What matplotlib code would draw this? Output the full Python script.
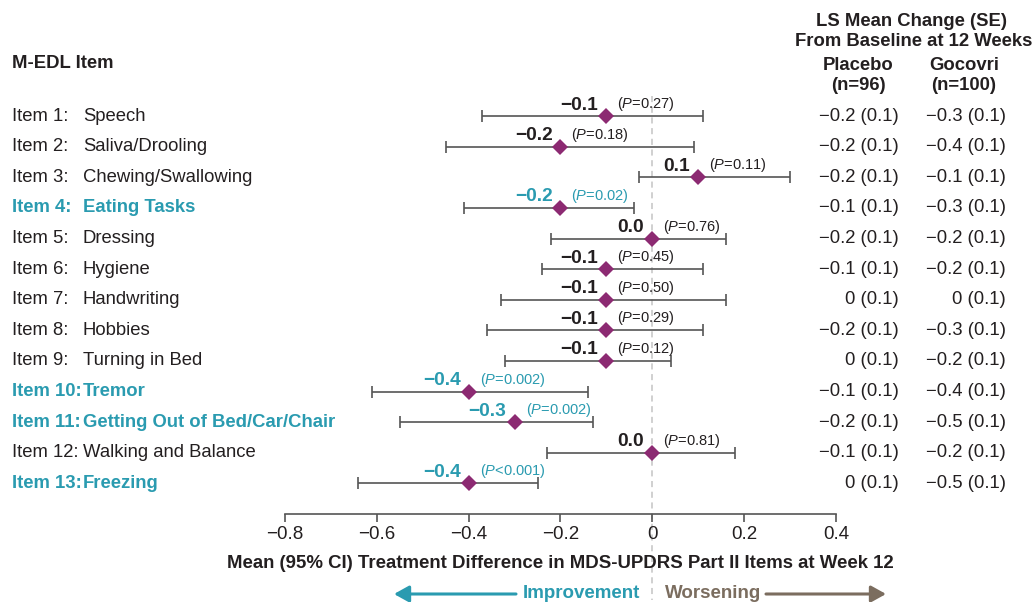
import matplotlib
matplotlib.use("Agg")
import matplotlib.pyplot as plt
from matplotlib.transforms import blended_transform_factory

plt.rcParams['font.family'] = ['Liberation Sans', 'DejaVu Sans']
plt.rcParams['mathtext.fontset'] = 'custom'
plt.rcParams['mathtext.it'] = 'Liberation Sans:italic'
plt.rcParams['mathtext.rm'] = 'Liberation Sans'

# ---- data ----
item_nums = ["Item 1:", "Item 2:", "Item 3:", "Item 4:", "Item 5:", "Item 6:", "Item 7:",
             "Item 8:", "Item 9:", "Item 10:", "Item 11:", "Item 12:", "Item 13:"]
item_names = ["Speech", "Saliva/Drooling", "Chewing/Swallowing", "Eating Tasks", "Dressing",
              "Hygiene", "Handwriting", "Hobbies", "Turning in Bed", "Tremor",
              "Getting Out of Bed/Car/Chair", "Walking and Balance", "Freezing"]
significant = [False, False, False, True, False, False, False, False, False, True, True, False, True]
estimate = [-0.1, -0.2, 0.1, -0.2, 0.0, -0.1, -0.1, -0.1, -0.1, -0.4, -0.3, 0.0, -0.4]
ci_low = [-0.37, -0.45, -0.03, -0.41, -0.22, -0.24, -0.33, -0.36, -0.32, -0.61, -0.55, -0.23, -0.64]
ci_high = [0.11, 0.09, 0.30, -0.04, 0.16, 0.11, 0.16, 0.11, 0.04, -0.14, -0.13, 0.18, -0.25]
p_text = ["=0.27", "=0.18", "=0.11", "=0.02", "=0.76", "=0.45", "=0.50", "=0.29", "=0.12",
          "=0.002", "=0.002", "=0.81", "<0.001"]
placebo_mean = [-0.2, -0.2, -0.2, -0.1, -0.2, -0.1, 0, -0.2, 0, -0.1, -0.2, -0.1, 0]
gocovri_mean = [-0.3, -0.4, -0.1, -0.3, -0.2, -0.2, 0, -0.3, -0.2, -0.4, -0.5, -0.2, -0.5]
se = [0.1] * 13
xticks = [-0.8, -0.6, -0.4, -0.2, 0, 0.2, 0.4]
xtick_labels = ["\u22120.8", "\u22120.6", "\u22120.4", "\u22120.2", "0", "0.2", "0.4"]

TEAL = "#2a9bb0"
PURPLE = "#8c2a72"
BROWN = "#7b6d5f"
DARK = "#231f20"
BAR = "#555555"

W, H = 1033, 602
FS = 13.3


def fy(py):
    return 1 - py / H


def fx(px):
    return px / W


def fmt(v):
    if v == 0:
        return "0"
    return f"{v:.1f}".replace("-", "\u2212")


fig = plt.figure(figsize=(W / 100, H / 100), dpi=100)
top_px, bot_px = 85.5, 514
ax = fig.add_axes([fx(285), fy(bot_px), fx(836) - fx(285), (bot_px - top_px) / H])

rows = list(range(1, len(estimate) + 1))
ax.set_xlim(-0.8, 0.4)
ax.set_ylim(14, 0)

# reference line at 0
ax.plot([0, 0], [0.35, 16.8], color="#c4c4c4", lw=1.1, ls=(0, (4, 3)), clip_on=False, zorder=0)

xerr = [[e - l for e, l in zip(estimate, ci_low)], [h - e for e, h in zip(estimate, ci_high)]]
ax.errorbar(estimate, rows, xerr=xerr, fmt="none", ecolor=BAR, elinewidth=1.2,
            capsize=4.5, capthick=1.2, zorder=2)
ax.plot(estimate, rows, "D", color=PURPLE, markersize=7.8, markeredgewidth=0, zorder=3)

for r, e, p, sig in zip(rows, estimate, p_text, significant):
    c = TEAL if sig else DARK
    ax.annotate(f"{e:.1f}".replace("-", "\u2212"), xy=(e, r), xytext=(-8, 11),
                textcoords="offset pixels", ha="right", va="center",
                fontsize=13.8, fontweight="bold", color=c)
    ax.annotate("(" + r"$\mathit{P}$" + p + ")", xy=(e, r), xytext=(11, 12),
                textcoords="offset pixels", ha="left", va="center",
                fontsize=10.5, color=c)

for s in ["left", "right", "top"]:
    ax.spines[s].set_visible(False)
ax.spines["bottom"].set_color(BAR)
ax.spines["bottom"].set_linewidth(1.2)
ax.set_yticks([])
ax.set_xticks(xticks)
ax.set_xticklabels(xtick_labels, fontsize=13.5, color=DARK)
ax.tick_params(axis="x", length=5.8, width=1.2, color=BAR, pad=3)

# left labels and right-hand table, aligned with rows
tr = blended_transform_factory(fig.transFigure, ax.transData)
for r, n, name, sig, pm, gm, s in zip(rows, item_nums, item_names, significant,
                                       placebo_mean, gocovri_mean, se):
    c = TEAL if sig else DARK
    w = "bold" if sig else "normal"
    ax.text(fx(12), r, n, transform=tr, ha="left", va="center", fontsize=FS, color=c, fontweight=w)
    ax.text(fx(83), r, name, transform=tr, ha="left", va="center", fontsize=FS, color=c, fontweight=w)
    ax.text(fx(899), r, f"{fmt(pm)} ({s})", transform=tr, ha="right", va="center",
            fontsize=FS, color=DARK)
    ax.text(fx(1006), r, f"{fmt(gm)} ({s})", transform=tr, ha="right", va="center",
            fontsize=FS, color=DARK)

# headers
fig.text(fx(12), fy(64), "M-EDL Item", ha="left", va="center", fontsize=FS, fontweight="bold", color=DARK)
fig.text(fx(912), fy(22), "LS Mean Change (SE)", ha="center", va="center", fontsize=FS,
         fontweight="bold", color=DARK)
fig.text(fx(914), fy(42), "From Baseline at 12 Weeks", ha="center", va="center", fontsize=FS,
         fontweight="bold", color=DARK)
fig.text(fx(858), fy(65), "Placebo", ha="center", va="center", fontsize=FS, fontweight="bold", color=DARK)
fig.text(fx(858), fy(85), "(n=96)", ha="center", va="center", fontsize=FS, fontweight="bold", color=DARK)
fig.text(fx(964), fy(65), "Gocovri", ha="center", va="center", fontsize=FS, fontweight="bold", color=DARK)
fig.text(fx(964), fy(85), "(n=100)", ha="center", va="center", fontsize=FS, fontweight="bold", color=DARK)

# x axis title
fig.text(fx(560.5), fy(563), "Mean (95% CI) Treatment Difference in MDS-UPDRS Part II Items at Week 12",
         ha="center", va="center", fontsize=13.4, fontweight="bold", color=DARK)

# direction arrows
fig.text(fx(640), fy(594), "Improvement", ha="right", va="center", fontsize=13.5,
         fontweight="bold", color=TEAL)
fig.text(fx(665), fy(594), "Worsening", ha="left", va="center", fontsize=13.5,
         fontweight="bold", color=BROWN)
fig.add_artist(matplotlib.patches.FancyArrowPatch(
    (fx(516), fy(594)), (fx(394), fy(594)), transform=fig.transFigure,
    arrowstyle="-|>,head_length=9,head_width=5", mutation_scale=1,
    color=TEAL, lw=2.2, shrinkA=0, shrinkB=0))
fig.add_artist(matplotlib.patches.FancyArrowPatch(
    (fx(766), fy(594)), (fx(886), fy(594)), transform=fig.transFigure,
    arrowstyle="-|>,head_length=9,head_width=5", mutation_scale=1,
    color=BROWN, lw=2.2, shrinkA=0, shrinkB=0))

fig.savefig("out.png", dpi=100, facecolor="white")
